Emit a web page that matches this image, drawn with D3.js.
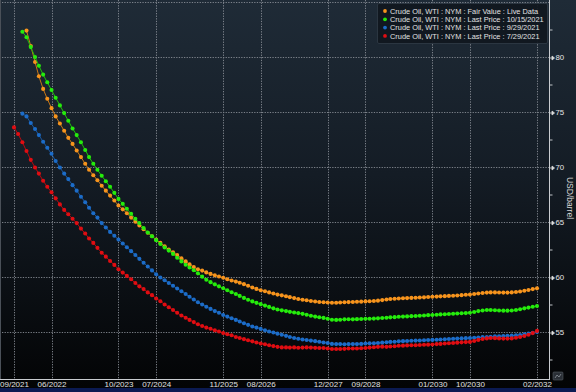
<!DOCTYPE html>
<html><head><meta charset="utf-8">
<script src="https://cdn.jsdelivr.net/npm/d3@7"></script>
<style>html,body{margin:0;padding:0;background:#000;overflow:hidden}</style>
</head><body><svg id="c" width="576" height="392"></svg>
<script>
// ---------- DATA ----------
const seriesNames = [
  "Crude Oil, WTI : NYM : Fair Value : Live Data",
  "Crude Oil, WTI : NYM : Last Price : 10/15/2021",
  "Crude Oil, WTI : NYM : Last Price : 9/29/2021",
  "Crude Oil, WTI : NYM : Last Price : 7/29/2021"
];
const seriesColors = ["#f7941d", "#25ec0c", "#1c6cc8", "#e00d12"];
const seriesStarts = ["2021-12", "2021-11", "2021-11", "2021-09"];

const fairValueLive = [
  82.4, 81.0, 79.55, 78.25, 77.1, 76.2, 75.35, 74.6, 73.95, 73.3,
  72.65, 72.1, 71.5, 70.9, 70.3, 69.75, 69.25, 68.8, 68.3, 67.85,
  67.4, 66.95, 66.5, 66.15, 65.8, 65.4, 65.02, 64.68, 64.35, 64.02,
  63.7, 63.4, 63.1, 62.8, 62.5, 62.25, 62.0, 61.7, 61.42, 61.15,
  60.9, 60.7, 60.58, 60.42, 60.28, 60.15, 60.05, 59.93, 59.8, 59.68,
  59.58, 59.48, 59.35, 59.2, 59.05, 58.92, 58.8, 58.7, 58.6, 58.5,
  58.4, 58.33, 58.25, 58.17, 58.08, 58.0, 57.93, 57.88, 57.82, 57.77,
  57.73, 57.7, 57.68, 57.66, 57.66, 57.68, 57.7, 57.72, 57.73, 57.75,
  57.76, 57.78, 57.8, 57.82, 57.85, 57.9, 57.95, 58.0, 58.02, 58.05,
  58.07, 58.08, 58.1, 58.12, 58.13, 58.15, 58.18, 58.2, 58.22, 58.24,
  58.26, 58.28, 58.3, 58.32, 58.35, 58.38, 58.4, 58.45, 58.5, 58.55,
  58.58, 58.6, 58.6, 58.59, 58.58, 58.58, 58.6, 58.63, 58.68, 58.75,
  58.82, 58.9, 58.97
];
const last20211015 = [
  82.3, 81.8, 80.9, 80.0, 79.2, 78.4, 77.7, 77.0, 76.3, 75.6,
  74.9, 74.2, 73.5, 72.9, 72.25, 71.55, 70.9, 70.3, 69.75, 69.2,
  68.7, 68.2, 67.65, 67.1, 66.65, 66.2, 65.75, 65.3, 64.9, 64.45,
  64.05, 63.7, 63.35, 63.0, 62.68, 62.4, 62.1, 61.75, 61.42, 61.12,
  60.87, 60.62, 60.33, 60.03, 59.75, 59.53, 59.33, 59.15, 58.98, 58.8,
  58.62, 58.45, 58.28, 58.1, 57.93, 57.78, 57.65, 57.53, 57.4, 57.28,
  57.15, 57.05, 56.97, 56.9, 56.83, 56.77, 56.72, 56.65, 56.57, 56.48,
  56.4, 56.34, 56.28, 56.2, 56.12, 56.1, 56.12, 56.15, 56.16, 56.15,
  56.17, 56.18, 56.2, 56.2, 56.22, 56.24, 56.27, 56.3, 56.33, 56.35,
  56.38, 56.4, 56.42, 56.44, 56.46, 56.48, 56.5, 56.53, 56.55, 56.57,
  56.6, 56.62, 56.64, 56.66, 56.68, 56.7, 56.72, 56.75, 56.82, 56.9,
  56.96, 57.0, 57.0, 56.98, 56.96, 56.94, 56.94, 56.95, 57.0, 57.07,
  57.15, 57.22, 57.3, 57.36
];
const last20210929 = [
  74.85, 74.6, 74.0, 73.45, 72.9, 72.3, 71.75, 71.2, 70.55, 69.95,
  69.4, 68.9, 68.35, 67.85, 67.3, 66.8, 66.3, 65.8, 65.4, 64.9,
  64.5, 64.1, 63.75, 63.4, 63.05, 62.7, 62.35, 62.0, 61.65, 61.3,
  60.95, 60.6, 60.25, 59.95, 59.7, 59.45, 59.2, 58.95, 58.7, 58.45,
  58.2, 57.95, 57.7, 57.5, 57.3, 57.1, 56.9, 56.75, 56.55, 56.4,
  56.25, 56.1, 55.95, 55.8, 55.65, 55.5, 55.4, 55.28, 55.15, 55.05,
  54.95, 54.85, 54.75, 54.65, 54.55, 54.45, 54.38, 54.32, 54.27, 54.22,
  54.17, 54.12, 54.05, 54.0, 53.92, 53.9, 53.9, 53.88, 53.9, 53.9,
  53.9, 53.92, 53.95, 53.97, 53.98, 54.0, 54.03, 54.07, 54.1, 54.12,
  54.15, 54.17, 54.18, 54.2, 54.22, 54.23, 54.25, 54.27, 54.28, 54.3,
  54.32, 54.34, 54.36, 54.38, 54.4, 54.42, 54.44, 54.45, 54.48, 54.5,
  54.53, 54.55, 54.57, 54.6, 54.61, 54.63, 54.65, 54.67, 54.7, 54.72,
  54.78, 54.85, 54.93, 55.0
];
const last20210729 = [
  73.6, 73.0, 72.25, 71.45, 70.65, 69.95, 69.4, 68.75, 68.2, 67.7,
  67.15, 66.6, 66.1, 65.7, 65.3, 64.9, 64.4, 63.95, 63.5, 63.1,
  62.65, 62.2, 61.85, 61.45, 61.1, 60.7, 60.4, 60.1, 59.8, 59.45,
  59.15, 58.9, 58.6, 58.35, 58.05, 57.8, 57.5, 57.25, 57.0, 56.75,
  56.5, 56.3, 56.1, 55.9, 55.7, 55.55, 55.4, 55.3, 55.15, 55.05,
  54.9, 54.8, 54.7, 54.55, 54.45, 54.35, 54.25, 54.15, 54.05, 53.95,
  53.88, 53.8, 53.72, 53.65, 53.6, 53.6, 53.58, 53.6, 53.57, 53.58,
  53.6, 53.58, 53.56, 53.55, 53.55, 53.5, 53.45, 53.45, 53.46, 53.47,
  53.5, 53.5, 53.5, 53.52, 53.55, 53.58, 53.62, 53.65, 53.67, 53.65,
  53.68, 53.7, 53.75, 53.76, 53.78, 53.8, 53.8, 53.82, 53.84, 53.85,
  53.87, 53.9, 53.92, 53.95, 53.98, 54.0, 54.03, 54.06, 54.08, 54.1,
  54.18, 54.28, 54.36, 54.42, 54.45, 54.44, 54.42, 54.4, 54.4, 54.42,
  54.48, 54.55, 54.64, 54.75, 54.9, 55.1
];
const seriesValues = [fairValueLive, last20211015, last20210929, last20210729];

const xTickLabels = ["09/2021","06/2022","10/2023","07/2024","11/2025","08/2026",
                     "12/2027","09/2028","01/2030","10/2030","02/2032"];
const yTicks = [55, 60, 65, 70, 75, 80, 85];
const yMinorTicks = [52.5, 57.5, 62.5, 67.5, 72.5, 77.5, 82.5];
const yAxisTitle = "USD/barrel";

// ---------- LAYOUT ----------
const W = 576, H = 392;
const plotL = 2, plotR = 549, plotT = 0, plotB = 379;
const FONT = "'Liberation Sans', Arial, sans-serif";

const svg = d3.select("#c");
const defs = svg.append("defs");
const g1 = defs.append("linearGradient").attr("id","bg")
  .attr("x1",0).attr("y1",0).attr("x2",0).attr("y2",1);
g1.append("stop").attr("offset","0%").attr("stop-color","#1f2b37");
g1.append("stop").attr("offset","45%").attr("stop-color","#141c25");
g1.append("stop").attr("offset","100%").attr("stop-color","#030405");

svg.append("rect").attr("x",0).attr("y",0).attr("width",W).attr("height",388).attr("fill","url(#bg)");
svg.append("rect").attr("x",0).attr("y",388).attr("width",W).attr("height",4).attr("fill","#0b1a52");
svg.append("line").attr("x1",0.5).attr("x2",0.5).attr("y1",0).attr("y2",plotB)
  .attr("stroke","#4a5058").attr("stroke-width",1);

const parseTick = d3.timeParse("%m/%Y");
const parseStart = d3.timeParse("%Y-%m");
const x = d3.scaleTime()
  .domain([parseTick(xTickLabels[0]), parseTick(xTickLabels[xTickLabels.length-1])])
  .range([14, 537]);
const y = d3.scaleLinear().domain([55, 80]).range([332, 57]);

// grid
const grid = svg.append("g").attr("stroke","#8c9199").attr("stroke-width",1)
  .attr("stroke-dasharray","1.3,1.3").attr("opacity",0.85);
xTickLabels.forEach(t => {
  const xx = Math.round(x(parseTick(t))) + 0.5;
  grid.append("line").attr("x1",xx).attr("x2",xx).attr("y1",plotT).attr("y2",plotB);
});
yTicks.forEach(v => {
  const yy = Math.round(y(v)) + 0.5;
  grid.append("line").attr("x1",plotL).attr("x2",plotR).attr("y1",yy).attr("y2",yy);
});

// series (later series drawn on top)
seriesValues.forEach((vals, i) => {
  const start = parseStart(seriesStarts[i]);
  const pts = vals.map((v,k) => ({d: d3.timeMonth.offset(start,k), v}));
  const col = seriesColors[i];
  const gs = svg.append("g");
  gs.append("path").datum(pts)
    .attr("d", d3.line().x(p=>x(p.d)).y(p=>y(p.v)))
    .attr("fill","none").attr("stroke", d3.color(col).darker(0.6)).attr("stroke-width",1);
  gs.selectAll("circle").data(pts).join("circle")
    .attr("cx",p=>x(p.d)).attr("cy",p=>y(p.v)).attr("r",2.05).attr("fill",col);
});

// right axis
svg.append("line").attr("x1",plotR+0.5).attr("x2",plotR+0.5).attr("y1",0).attr("y2",plotB)
  .attr("stroke","#c9ccd0").attr("stroke-width",1);
const yAxis = d3.axisRight(y).tickValues(yTicks.filter(v=>v<=80)).tickSize(0).tickPadding(0)
  .tickFormat(d3.format("d"));
const ya = svg.append("g").attr("transform",`translate(${plotR+0.5},0)`).call(yAxis);
ya.select(".domain").remove();
ya.selectAll(".tick text").attr("x",6).attr("fill","#e6e6e6")
  .style("font-family",FONT).style("font-size","7.8px");
ya.selectAll(".tick").append("path").attr("d","M0,0.5H2.5M2.5,-1.5L5,0.5L2.5,2.5Z")
  .attr("fill","#dcdcdc").attr("stroke","#dcdcdc").attr("stroke-width",0.8);
const yMinorAxis = d3.axisRight(y).tickValues(yMinorTicks).tickSize(3).tickFormat("");
const ym = svg.append("g").attr("transform",`translate(${plotR+0.5},0)`).call(yMinorAxis);
ym.select(".domain").remove();
ym.selectAll("line").attr("stroke","#bfc3c7");

svg.append("text").attr("transform","translate(567,198) rotate(90)")
  .attr("text-anchor","middle").attr("fill","#d4d4d4")
  .style("font-family",FONT).style("font-size","8.5px").text(yAxisTitle);

// bottom axis
svg.append("line").attr("x1",0).attr("x2",plotR+1).attr("y1",plotB+0.5).attr("y2",plotB+0.5)
  .attr("stroke","#c9ccd0").attr("stroke-width",1);
const xAxis = d3.axisBottom(x).tickValues(xTickLabels.map(parseTick))
  .tickFormat(d3.timeFormat("%m/%Y")).tickSize(0).tickPadding(2);
const xa = svg.append("g").attr("transform",`translate(0,${plotB+0.5})`).call(xAxis);
xa.select(".domain").remove();
xa.selectAll(".tick text").attr("fill","#e0e0e0").attr("dy","0.71em")
  .style("font-family",FONT).style("font-size","8px");

// small icon bottom-right
svg.append("rect").attr("x",553).attr("y",372).attr("width",10).attr("height",8).attr("rx",1)
  .attr("fill","#2a2f36").attr("stroke","#555b63").attr("stroke-width",0.6);
svg.append("path").attr("d","M555,378 L557,375 L559,377 L561,374")
  .attr("fill","none").attr("stroke","#9aa0a8").attr("stroke-width",0.7);

// legend
const lg = svg.append("g");
lg.append("rect").attr("x",377.5).attr("y",3.5).attr("width",170).attr("height",40).attr("rx",1.5)
  .attr("fill","#10171e").attr("fill-opacity",0.92).attr("stroke","#2b3641").attr("stroke-width",1);
seriesNames.forEach((n,i) => {
  const yy = 11 + i*8.3;
  lg.append("circle").attr("cx",385).attr("cy",yy).attr("r",1.9).attr("fill",seriesColors[i]);
  lg.append("text").attr("x",390).attr("y",yy+2.6).attr("fill","#e2e2e2")
    .style("font-family",FONT).style("font-size","7.4px").text(n);
});
</script></body></html>
